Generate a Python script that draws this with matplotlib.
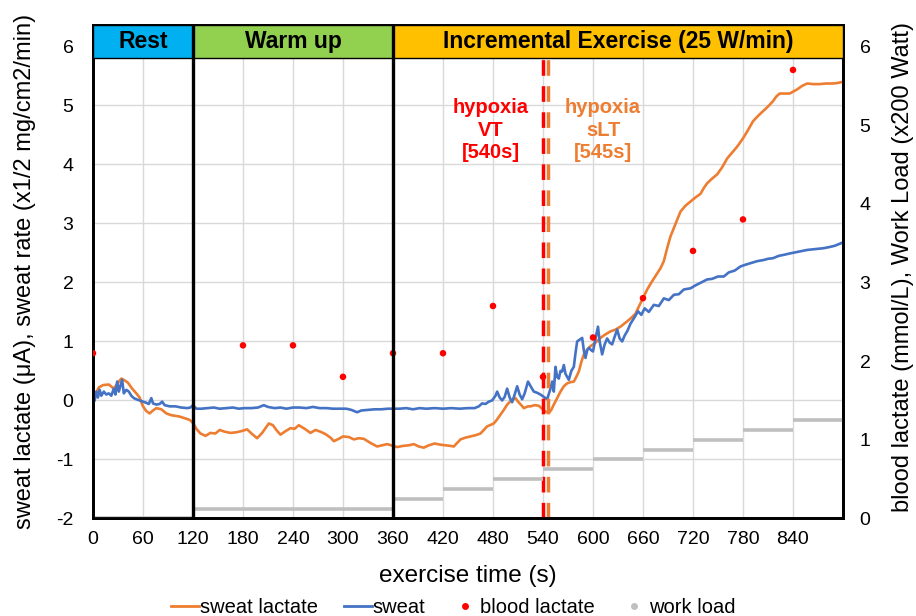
import matplotlib
matplotlib.use("Agg")
import matplotlib.pyplot as plt
from matplotlib.patches import Rectangle
from matplotlib.lines import Line2D

plt.rcParams['font.family'] = ['Liberation Sans', 'DejaVu Sans']
plt.rcParams['axes.unicode_minus'] = False

# ---------------- data ----------------
lac_t = [0, 3, 7, 12, 19, 25, 30, 34, 38, 42, 47, 52, 56, 60, 64, 68, 72, 76, 82, 88, 94, 103, 110, 116,
         120, 124, 129, 135, 141, 147, 152, 158, 165, 172, 178, 185, 191, 197, 203, 207, 211, 216, 220, 225,
         231, 237, 242, 247, 254, 261, 267, 273, 279, 285, 289, 295, 300, 307, 313, 319, 325, 333, 341, 347,
         353, 360, 365, 372, 379, 385, 391, 397, 403, 410, 417, 423, 429, 433, 437, 441, 447, 453, 459, 465,
         469, 473, 481, 485, 489, 493, 497, 502, 507, 510, 514, 517, 522, 525, 530, 535, 539, 543, 547, 550,
         553, 557, 561, 565, 569, 573, 577, 580, 583, 586, 589, 593, 597, 603, 609, 615, 621, 627, 633, 641,
         646, 651, 656, 660, 665, 671, 676, 681, 685, 689, 693, 697, 701, 705, 711, 717, 723, 729, 733, 737,
         743, 749, 755, 761, 767, 773, 777, 780, 786, 792, 798, 804, 810, 816, 820, 824, 830, 836, 841, 845,
         851, 857, 864, 872, 880, 888, 894, 900]
lac_v = [-0.05, 0.1, 0.22, 0.26, 0.27, 0.2, 0.3, 0.37, 0.34, 0.3, 0.2, 0.12, 0.05, -0.1, -0.18, -0.22, -0.17,
         -0.13, -0.15, -0.22, -0.25, -0.27, -0.3, -0.33,
         -0.38, -0.48, -0.56, -0.6, -0.55, -0.56, -0.5, -0.53, -0.55, -0.54, -0.52, -0.49, -0.57, -0.64, -0.55,
         -0.47, -0.39, -0.42, -0.5, -0.58,
         -0.52, -0.47, -0.48, -0.42, -0.48, -0.55, -0.5, -0.53, -0.57, -0.63, -0.69, -0.65, -0.61, -0.62, -0.66,
         -0.64, -0.65, -0.72, -0.78, -0.76,
         -0.74, -0.77, -0.79, -0.77, -0.76, -0.74, -0.78, -0.8, -0.76, -0.73, -0.75, -0.76, -0.77, -0.78, -0.72,
         -0.66, -0.63, -0.61, -0.59, -0.56,
         -0.5, -0.44, -0.39, -0.32, -0.24, -0.16, -0.07, 0.0, 0.04, -0.02, -0.08, -0.13, -0.1, -0.1, -0.08,
         -0.09, -0.14, -0.19, -0.21, -0.16,
         -0.07, 0.04, 0.15, 0.24, 0.29, 0.31, 0.32, 0.4, 0.49, 0.65, 0.78, 0.86, 0.92, 0.98, 1.06, 1.12, 1.17,
         1.2, 1.25, 1.34,
         1.4, 1.47, 1.62, 1.73, 1.88, 2.02, 2.13, 2.24, 2.36, 2.58, 2.78, 2.92, 3.06, 3.2, 3.3, 3.37, 3.44, 3.5,
         3.6, 3.68,
         3.76, 3.83, 3.95, 4.1, 4.2, 4.3, 4.38, 4.44, 4.58, 4.73, 4.82, 4.9, 4.98, 5.07, 5.15, 5.2, 5.2, 5.2,
         5.24, 5.27,
         5.33, 5.37, 5.36, 5.36, 5.37, 5.37, 5.38, 5.4]

swt_t = [0, 2, 4, 6, 8, 10, 13, 16, 19, 22, 25, 27, 29, 31, 33, 35, 37, 40, 43, 46, 49, 52, 56, 60, 64, 67,
         70, 72, 76, 80, 83, 86, 92, 99, 106, 113, 117, 120, 124, 130, 138, 145, 152, 160, 168, 175, 182, 190,
         198, 205, 210, 218, 225, 232, 240, 248, 256, 264, 272, 280, 288, 296, 304, 310, 317, 322, 330, 338,
         346, 354, 360, 368, 376, 384, 392, 400, 410, 420, 430, 440, 450, 458, 463, 467, 471, 475, 479, 483,
         485, 488, 491, 494, 497, 500, 503, 506, 509, 512, 515, 518, 522, 526, 529, 533, 537, 541, 545, 549,
         551, 553, 555, 557, 559, 561, 563, 565, 567, 569, 571, 574, 577, 579, 581, 584, 587, 589, 591, 593,
         595, 598, 600, 603, 606, 608, 611, 614, 617, 620, 623, 626, 629, 632, 635, 638, 641, 645, 649, 654,
         658, 662, 667, 673, 679, 685, 691, 697, 703, 709, 717, 723, 730, 737, 743, 750, 757, 763, 770, 777,
         783, 790, 797, 805, 810, 816, 823, 830, 836, 843, 850, 857, 864, 870, 877, 884, 890, 897, 900]
swt_v = [-0.05, 0.0, 0.15, 0.05, 0.18, 0.08, 0.15, 0.1, 0.12, 0.08, 0.2, 0.1, 0.32, 0.15, 0.25, 0.35, 0.12,
         0.18, 0.15, 0.08, 0.04, 0.02, 0.0, -0.02, -0.04, -0.06,
         0.04, -0.05, -0.07, -0.06, -0.02, -0.08, -0.1, -0.1, -0.12, -0.13, -0.12, -0.08, -0.14, -0.14, -0.13,
         -0.12, -0.14, -0.13, -0.12, -0.14, -0.13, -0.13,
         -0.12, -0.08, -0.11, -0.13, -0.12, -0.14, -0.12, -0.12, -0.13, -0.11, -0.13, -0.13, -0.14, -0.14,
         -0.14, -0.16, -0.2, -0.17, -0.16, -0.15,
         -0.15, -0.14, -0.14, -0.14, -0.13, -0.15, -0.13, -0.14, -0.13, -0.14, -0.13, -0.14, -0.13, -0.13,
         -0.1, -0.05, -0.06, -0.02, 0.0, 0.08,
         0.15, 0.05, 0.0, 0.06, 0.2, 0.05, -0.03, 0.1, 0.24, 0.1, 0.02, 0.12, 0.32, 0.22, 0.15, 0.13, 0.1,
         0.06, 0.02, 0.2,
         0.32, 0.15, 0.57, 0.4, 0.37, 0.5, 0.49, 0.6, 0.45, 0.4, 0.35, 0.5, 0.57, 0.8, 1.0, 1.03, 1.06, 0.85,
         0.72, 0.85,
         0.89, 0.85, 0.83, 1.05, 1.25, 1.0, 0.78, 0.95, 1.05, 0.98, 0.95, 1.08, 1.2, 1.05, 1.0, 1.1, 1.17, 1.3,
         1.39, 1.51,
         1.45, 1.56, 1.5, 1.62, 1.6, 1.73, 1.7, 1.79, 1.8, 1.88, 1.9, 1.95, 2.0, 2.05, 2.06, 2.1, 2.1, 2.17,
         2.2, 2.27,
         2.3, 2.33, 2.36, 2.38, 2.4, 2.41, 2.45, 2.47, 2.49, 2.51, 2.53, 2.55, 2.56, 2.57, 2.58, 2.6, 2.62,
         2.66, 2.68]

blood_t = [0, 180, 240, 300, 360, 420, 480, 540, 600, 660, 720, 780, 840]
blood_v = [2.1, 2.2, 2.2, 1.8, 2.1, 2.1, 2.7, 1.8, 2.3, 2.8, 3.4, 3.8, 5.7]

load_start = [0, 120, 360, 420, 480, 540, 600, 660, 720, 780, 840]
load_end = [120, 360, 420, 480, 540, 600, 660, 720, 780, 840, 900]
load_v = [0.0, 0.125, 0.25, 0.375, 0.5, 0.625, 0.75, 0.875, 1.0, 1.125, 1.25]

phase_names = ["Rest", "Warm up", "Incremental Exercise (25 W/min)"]
phase_start = [0, 120, 360]
phase_end = [120, 360, 900]
phase_colors = ["#00B0F0", "#92D050", "#FFC000"]

xticks = list(range(0, 900, 60))
yticks_left = [-2, -1, 0, 1, 2, 3, 4, 5, 6]
yticks_right = [0, 1, 2, 3, 4, 5, 6]

vt_time = 540
slt_time = 546

# ---------------- figure ----------------
ORANGE = "#ED7D31"
BLUE = "#4472C4"
RED = "#FF0000"
GRAY = "#BFBFBF"

fig = plt.figure(figsize=(9.16, 6.16), dpi=100)
ax = fig.add_axes([0.1015, 0.1583, 0.8188, 0.801])
ax2 = ax.twinx()

ymin, ymax = -2, 6.36
band_lo = 5.81
ax.set_xlim(0, 900)
ax.set_ylim(ymin, ymax)
ax2.set_ylim((ymin + 2) * 0.75, (ymax + 2) * 0.75)

ax.set_xticks(xticks)
ax.set_yticks(yticks_left)
ax2.set_yticks(yticks_right)
ax.grid(False)
for x in range(60, 900, 60):
    ax.axvline(x, color="#D9D9D9", lw=1.0, zorder=0)
for y in yticks_left:
    ax.axhline(y, color="#D9D9D9", lw=1.0, zorder=0)

ax.tick_params(axis='x', length=0, pad=9, labelsize=14)
ax.tick_params(axis='y', length=0, pad=14, labelsize=14)
ax2.tick_params(axis='y', length=0, pad=12, labelsize=14)

for a in (ax, ax2):
    for s in a.spines.values():
        s.set_linewidth(2.0)
        s.set_color("black")

# series on left axis
ax.plot(lac_t, lac_v, color=ORANGE, lw=1.9, zorder=3)
ax.plot(swt_t, swt_v, color=BLUE, lw=1.9, zorder=4)

# right axis: work load and blood lactate
ax2.hlines(load_v, load_start, load_end, color=GRAY, lw=2.6, zorder=2)
ax2.scatter(blood_t, blood_v, s=22, color=RED, zorder=5, edgecolors='none')

# phase band
for name, s, e, c in zip(phase_names, phase_start, phase_end, phase_colors):
    ax2.add_patch(Rectangle((s, (band_lo + 2) * 0.75), e - s, (ymax - band_lo) * 0.75,
                            facecolor=c, edgecolor="black", lw=1.0, zorder=6))
    ax2.text((s + e) / 2, ((band_lo + ymax) / 2 + 2) * 0.75, name, ha='center', va='center',
             fontsize=16.5, fontweight='bold', color='black', zorder=7)
for x in phase_start[1:]:
    ax2.axvline(x, color='black', lw=2.4, zorder=8)

# threshold lines
ax.vlines([vt_time], ymin, band_lo, colors=RED, lw=2.5, linestyles=(0, (4.5, 3)), zorder=6)
ax.vlines([slt_time], ymin, band_lo, colors=ORANGE, lw=2.5, linestyles=(0, (4.5, 3)), zorder=6)

ax.text(477, 4.58, "hypoxia\nVT\n[540s]", color=RED, fontsize=14.5, fontweight='bold',
        ha='center', va='center', linespacing=1.22, zorder=7)
ax.text(612, 4.58, "hypoxia\nsLT\n[545s]", color=ORANGE, fontsize=14.5, fontweight='bold',
        ha='center', va='center', linespacing=1.22, zorder=7)

# labels
ax.set_xlabel("exercise time (s)", fontsize=17.5)
ax.xaxis.set_label_coords(0.5, -0.117)
ax.xaxis.label.set_va('center')
ax.set_ylabel("sweat lactate (\u03bcA), sweat rate (x1/2 mg/cm2/min)", fontsize=17, va='center')
ax.yaxis.set_label_coords(-0.091, 0.5)
ax2.set_ylabel("blood lactate (mmol/L), Work Load (x200 Watt)", fontsize=17, va='center', rotation=90)
ax2.yaxis.set_label_coords(1.08, 0.51)

# legend
handles = [
    Line2D([], [], color=ORANGE, lw=2.0),
    Line2D([], [], color=BLUE, lw=2.0),
    Line2D([], [], color=RED, lw=0, marker='o', markersize=5, markeredgewidth=0),
    Line2D([], [], color=GRAY, lw=0, marker='o', markersize=5, markeredgewidth=0),
]
labels = ["sweat lactate", "sweat", "blood lactate", "work load"]
fig.legend(handles, labels, loc='center', bbox_to_anchor=(0.495, 0.013), ncol=4, frameon=False,
           fontsize=14.5, handlelength=1.4, handletextpad=0.05, columnspacing=1.25, borderpad=0)

fig.savefig("out.png", dpi=100)
